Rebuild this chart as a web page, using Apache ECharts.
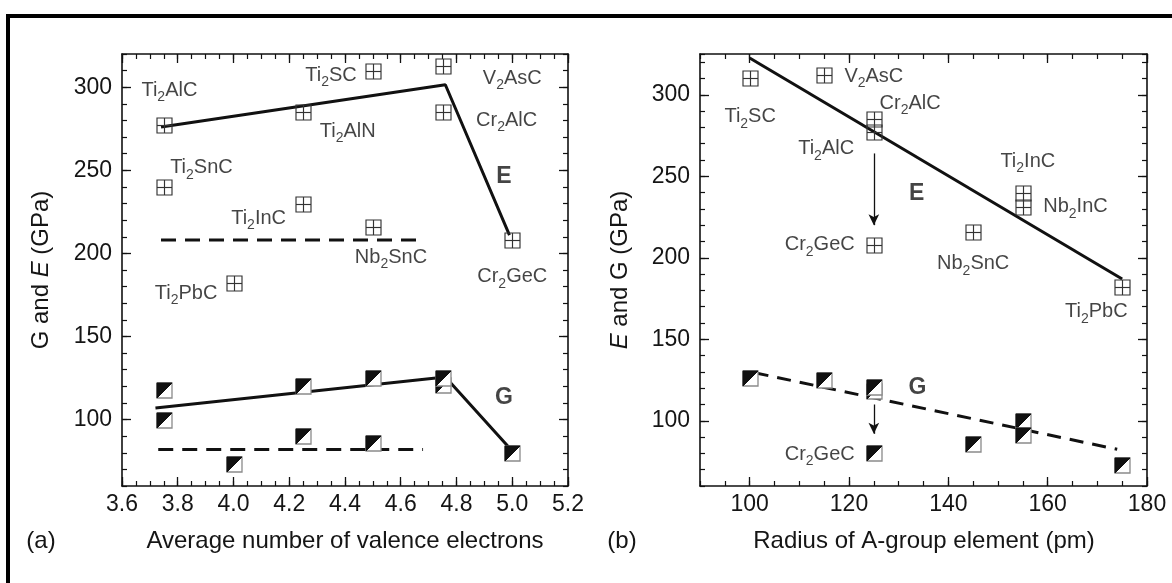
<!DOCTYPE html>
<html>
<head>
<meta charset="utf-8">
<script src="https://cdn.jsdelivr.net/npm/echarts@6/dist/echarts.min.js"></script>
<style>
html,body{margin:0;padding:0;background:#fff;}
#chart{width:1172px;height:583px;}
</style>
</head>
<body>
<div id="chart"></div>
<script>
// ---------- Panel (a): average number of valence electrons ----------
const aE_x = [3.75, 3.75, 4.25, 4.25, 4.5, 4.5, 4.0, 4.75, 4.75, 5.0];
const aE_y = [277, 240, 285, 230, 310, 216, 182, 313, 285, 208];
const aG_x = [3.75, 3.75, 4.0, 4.25, 4.25, 4.5, 4.5, 4.75, 4.75, 5.0];
const aG_y = [118, 100, 73, 120, 90, 125, 86, 121, 125, 80];
const aEfit_x = [3.74, 4.76, 4.99];
const aEfit_y = [276, 301.5, 211];
const aGfit_x = [3.72, 4.76, 5.0];
const aGfit_y = [107, 125.6, 81];
const aEavg_x = [3.74, 4.68];
const aEavg_y = [208, 208];
const aGavg_x = [3.73, 4.68];
const aGavg_y = [82, 82];
const aXTicks = [3.6, 3.8, 4.0, 4.2, 4.4, 4.6, 4.8, 5.0, 5.2];
const aYTicks = [100, 150, 200, 250, 300];
const aLabels = [
  ['Ti2AlC', 3.77, 298], ['Ti2SC', 4.35, 307], ['V2AsC', 5.0, 305.2],
  ['Cr2AlC', 4.98, 280], ['Ti2AlN', 4.41, 273.6], ['Ti2SnC', 3.885, 251.4],
  ['Ti2InC', 4.09, 221.2], ['Nb2SnC', 4.565, 197.8], ['Cr2GeC', 5.0, 185.8],
  ['Ti2PbC', 3.83, 176]
];
const aBold = [['E', 4.97, 246], ['G', 4.97, 113.3]];

// ---------- Panel (b): radius of A-group element ----------
const bE_x = [100, 115, 125, 125, 125, 145, 155, 155, 175];
const bE_y = [310, 312, 285, 277, 208, 216, 240, 231, 182];
const bG_x = [100, 115, 125, 125, 125, 145, 155, 155, 175];
const bG_y = [126, 125, 118, 121, 80, 86, 100, 91, 73];
const bEfit_x = [100, 175];
const bEfit_y = [322.5, 187];
const bGfit_x = [101, 174];
const bGfit_y = [129.5, 82.5];
const bArrowE = [[125, 264], [125, 220]];
const bArrowG = [[125, 110], [125, 92]];
const bXTicks = [100, 120, 140, 160, 180];
const bYTicks = [100, 150, 200, 250, 300];
const bLabels = [
  ['Ti2SC', 100.1, 286.5], ['V2AsC', 125, 311.2], ['Cr2AlC', 132.3, 294.9],
  ['Ti2AlC', 115.4, 266.8], ['Ti2InC', 156, 259], ['Nb2InC', 165.6, 231.2],
  ['Cr2GeC', 114.1, 207.9], ['Nb2SnC', 145, 196.2], ['Ti2PbC', 169.8, 166.9],
  ['Cr2GeC', 114.1, 79.5]
];
const bBold = [['E', 133.6, 239.2], ['G', 133.8, 120.6]];

// ---------- helpers ----------
const FONT = "'Liberation Sans', Arial, Helvetica, sans-serif";
const INK = '#151515';
const zip = (xs, ys) => xs.map((x, i) => [x, ys[i]]);
const subText = t => t.split(/(\d)/).filter(Boolean)
  .map(p => /\d/.test(p) ? '{s|' + p + '}' : '{n|' + p + '}').join('');
const richStyle = {
  n: {fontSize: 20, fontFamily: FONT, color: INK, verticalAlign: 'middle'},
  s: {fontSize: 14, fontFamily: FONT, color: INK, verticalAlign: 'bottom', lineHeight: 28}
};

function renderE(params, api) {
  const p = api.coord([api.value(0), api.value(1)]);
  const h = 7.5;
  const x = Math.round(p[0]) + 0.5, y = Math.round(p[1]) + 0.5;
  const st = {stroke: '#333', lineWidth: 1.15, fill: 'none'};
  return {type: 'group', children: [
    {type: 'rect', shape: {x: x - h, y: y - h, width: 2 * h, height: 2 * h}, style: st},
    {type: 'line', shape: {x1: x, y1: y - h, x2: x, y2: y + h}, style: st},
    {type: 'line', shape: {x1: x - h, y1: y, x2: x + h, y2: y}, style: st}
  ]};
}
function renderG(params, api) {
  const p = api.coord([api.value(0), api.value(1)]);
  const h = 7.5;
  const x = Math.round(p[0]) + 0.5, y = Math.round(p[1]) + 0.5;
  return {type: 'group', children: [
    {type: 'rect', shape: {x: x - h, y: y - h, width: 2 * h, height: 2 * h},
     style: {fill: '#fff', stroke: '#8a8a8a', lineWidth: 1.3}},
    {type: 'polygon', shape: {points: [[x - h, y - h], [x + h, y - h], [x - h, y + h]]},
     style: {fill: '#111', stroke: '#111', lineWidth: 1}}
  ]};
}

function axes(dim, grid, min, max, majors, minorStep, fmt) {
  const isX = dim === 'x';
  const posA = isX ? 'bottom' : 'left';
  const posB = isX ? 'top' : 'right';
  const line = {show: true, onZero: false, lineStyle: {color: '#111', width: 1.6}};
  const base = {gridIndex: grid, type: 'value', min: min, max: max, splitLine: {show: false}, silent: true};
  const major = (pos, labels) => Object.assign({}, base, {
    position: pos, axisLine: line,
    axisTick: {show: true, inside: true, length: 9, customValues: majors, lineStyle: {color: '#111', width: 1.3}},
    axisLabel: labels ? {show: true, customValues: majors, formatter: fmt, margin: isX ? 7 : 10,
      fontSize: 23, fontFamily: FONT, color: INK} : {show: false}
  });
  const minor = pos => Object.assign({}, base, {
    position: pos, interval: minorStep, axisLine: {show: false},
    axisTick: {show: true, inside: true, length: 5, lineStyle: {color: '#111', width: 1.2}},
    axisLabel: {show: false}
  });
  return [major(posA, true), minor(posA), major(posB, false), minor(posB)];
}

const xAxes = [].concat(
  axes('x', 0, 3.6, 5.2, aXTicks, 0.05, v => Number(v).toFixed(1)),
  axes('x', 1, 90, 180, bXTicks, 5, v => String(Math.round(v)))
);
const yAxes = [].concat(
  axes('y', 0, 60, 320, aYTicks, 10, v => String(Math.round(v))),
  axes('y', 1, 60, 325, bYTicks, 10, v => String(Math.round(v)))
);

function lineSeries(xi, xs, ys, dashed, extra) {
  return Object.assign({
    type: 'line', xAxisIndex: xi, yAxisIndex: xi, data: zip(xs, ys), symbol: 'none',
    lineStyle: {color: '#111', width: 3, type: dashed ? [15, 9] : 'solid'},
    silent: true, z: 2
  }, extra || {});
}
function markerSeries(xi, xs, ys, render) {
  return {type: 'custom', xAxisIndex: xi, yAxisIndex: xi, data: zip(xs, ys),
    encode: {x: 0, y: 1}, renderItem: render, silent: true, z: 5, clip: false};
}
function labelSeries(xi, list, bold) {
  return {type: 'scatter', xAxisIndex: xi, yAxisIndex: xi, symbol: 'circle', symbolSize: 1,
    itemStyle: {color: 'rgba(0,0,0,0)'}, silent: true, z: 6,
    data: list.map(l => ({name: l[0], value: [l[1], l[2]]})),
    label: bold ? {show: true, position: 'inside', formatter: p => p.name,
        fontSize: 23, fontWeight: 'bold', fontFamily: FONT, color: INK}
      : {show: true, position: 'inside', formatter: p => subText(p.name), rich: richStyle}
  };
}

const series = [
  lineSeries(0, aEfit_x, aEfit_y, false),
  lineSeries(0, aGfit_x, aGfit_y, false),
  lineSeries(0, aEavg_x, aEavg_y, true),
  lineSeries(0, aGavg_x, aGavg_y, true),
  markerSeries(0, aE_x, aE_y, renderE),
  markerSeries(0, aG_x, aG_y, renderG),
  labelSeries(0, aLabels, false),
  labelSeries(0, aBold, true),
  lineSeries(4, bEfit_x, bEfit_y, false, {
    markLine: {silent: true, symbol: ['none', 'arrow'], symbolSize: [8, 11], animation: false,
      lineStyle: {color: '#111', width: 1.3, type: 'solid'}, label: {show: false},
      data: [bArrowE, bArrowG].map(a => [{coord: a[0]}, {coord: a[1]}])}
  }),
  lineSeries(4, bGfit_x, bGfit_y, true, {lineStyle: {color: '#111', width: 3, type: [14, 9]}}),
  markerSeries(4, bE_x, bE_y, renderE),
  markerSeries(4, bG_x, bG_y, renderG),
  labelSeries(4, bLabels, false),
  labelSeries(4, bBold, true)
];

function gtext(x, y, text, opts) {
  return Object.assign({type: 'text', x: x, y: y, silent: true, style: Object.assign({
    text: text, fontSize: 24, fontFamily: FONT, fill: INK,
    align: 'center', verticalAlign: 'middle', textAlign: 'center', textVerticalAlign: 'middle',
    rich: {i: {fontStyle: 'italic', fontSize: 24, fontFamily: FONT, fill: INK}}
  }, opts && opts.style || {})}, opts && opts.el || {});
}

const option = {
  animation: false,
  backgroundColor: '#fff',
  grid: [
    {left: 122, right: 604, top: 54, bottom: 97},
    {left: 700, right: 25, top: 54, bottom: 97}
  ],
  xAxis: xAxes,
  yAxis: yAxes,
  series: series,
  graphic: [
    {type: 'line', silent: true, shape: {x1: 6, y1: 16, x2: 1172, y2: 16}, style: {stroke: '#000', lineWidth: 4}},
    {type: 'line', silent: true, shape: {x1: 8, y1: 14, x2: 8, y2: 583}, style: {stroke: '#000', lineWidth: 4}},
    gtext(345, 541, 'Average number of valence electrons'),
    gtext(924, 541, 'Radius of A-group element (pm)'),
    gtext(41, 541, '(a)'),
    gtext(622, 541, '(b)'),
    gtext(41, 270, 'G and {i|E} (GPa)', {el: {rotation: Math.PI / 2}}),
    gtext(620, 270, '{i|E} and G (GPa)', {el: {rotation: Math.PI / 2}})
  ]
};

const chart = echarts.init(document.getElementById('chart'), null, {renderer: 'canvas'});
chart.setOption(option);
</script>
</body>
</html>
